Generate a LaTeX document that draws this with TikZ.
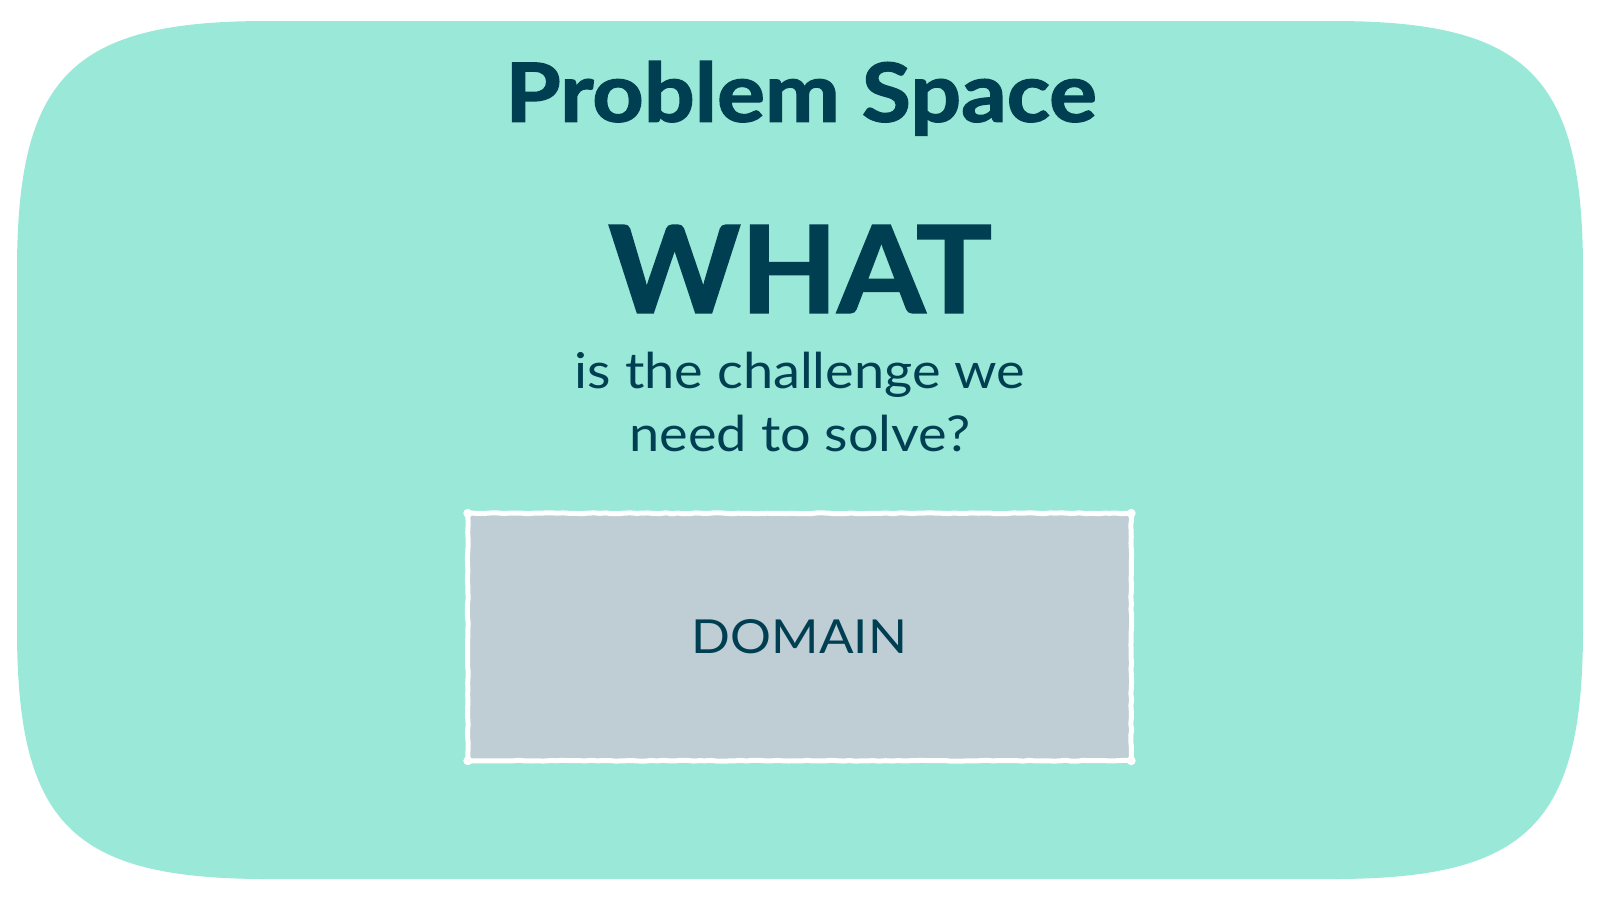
\documentclass[tikz,border=0pt]{standalone}
\usepackage{fontspec}
\setmainfont{Lato}
\newfontfamily\heavyfont{Lato}[BoldFeatures={FakeBold=1.6}]
\usetikzlibrary{decorations.pathmorphing}
\definecolor{psbg}{HTML}{9AE8D8}
\definecolor{psdark}{HTML}{003F52}
\definecolor{psgrey}{HTML}{BFCED5}
\tikzset{
  txt/.style={text=psdark, inner sep=0pt, anchor=base},
  titletxt/.style={txt, font=\fontsize{81.5}{81.5}\selectfont\heavyfont\bfseries},
  whattxt/.style={txt, font=\fontsize{121}{121}\selectfont\heavyfont\bfseries},
  subtxt/.style={txt, font=\fontsize{49.4}{49.4}\selectfont},
  domainbox/.style={fill=psgrey, text=psdark, inner sep=0pt,
    minimum width=663pt, minimum height=247pt,
    font=\fontsize{46.9}{46.9}\selectfont},
  roughline/.style={draw=white, line width=5pt,
    decorate, decoration={random steps, segment length=6pt, amplitude=0.45pt}},
}
\begin{document}
\begin{tikzpicture}[x=1pt,y=-1pt]
\pgfmathsetseed{7}
\useasboundingbox (0,0) rectangle (1600,900);
% background rounded panel
\fill[psbg] (17,271) .. controls (17,76) and (72,21) .. (267,21)
  -- (1333,21) .. controls (1528,21) and (1583,76) .. (1583,271)
  -- (1583,629) .. controls (1583,824) and (1528,879) .. (1333,879)
  -- (267,879) .. controls (72,879) and (17,824) .. (17,629) -- cycle;
% texts
\node[titletxt] (title) at (801,121.7) {\scalebox{1.10}[1]{Problem Space}};
\node[whattxt] (what) at (800,312.7) {\scalebox{1.04}[1]{WHAT}};
\node[subtxt] (sub1) at (800,388.3) {\scalebox{1.095}[1]{is the challenge we}};
\node[subtxt] (sub2) at (800,451.7) {\scalebox{1.095}[1]{need to solve?}};
% domain box
\node[domainbox] (domain) at (799.5,637) {\scalebox{1.09}[1]{DOMAIN}};
\draw[roughline] (domain.north west) -- (domain.north east) -- (domain.south east) -- (domain.south west) -- cycle;
\foreach \c in {north west, north east, south east, south west}
  \fill[white] (domain.\c) circle (4.5);
\end{tikzpicture}
\end{document}
